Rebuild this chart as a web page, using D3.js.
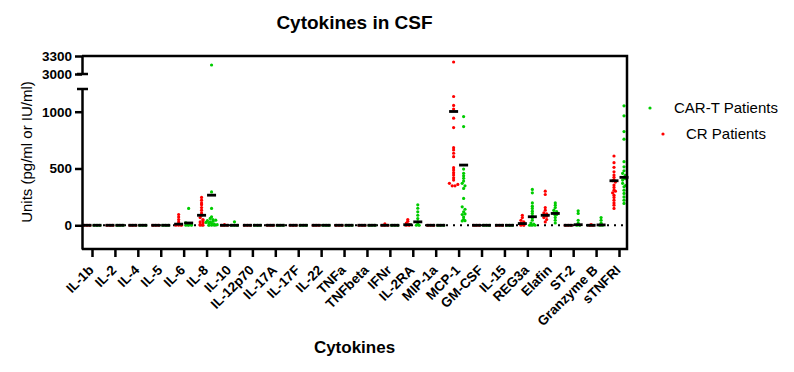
<!DOCTYPE html>
<meta charset="utf-8">
<style>
    body { margin: 0; background: #fff; }
    text { font-family: Arial, "Liberation Sans", sans-serif; fill: #000; }
</style>
<body>
<script src="https://d3js.org/d3.v7.min.js"></script>
<script>

    var cytokines = ["IL-1b", "IL-2", "IL-4", "IL-5", "IL-6", "IL-8", "IL-10", "IL-12p70", "IL-17A", "IL-17F",
        "IL-22", "TNFa", "TNFbeta", "IFNr", "IL-2RA", "MIP-1a", "MCP-1", "GM-CSF", "IL-15", "REG3a",
        "Elafin", "ST-2", "Granzyme B", "sTNFRI"];

    // CR patients (red), one list per cytokine
    var crValues = [
        [0, 0, 0], [0, 0, 0], [0, 0, 0], [0, 0, 0],
        [95, 73, 50, 29, 9, 0, 0, 0],
        [245, 221, 197, 181, 156, 133, 109, 88, 68, 51, 29, 9, 0, 0, 40, 20],
        [5, 0, 0, 0],
        [0, 0, 0], [0, 0, 0], [0, 0, 0], [0, 0, 0], [0, 0, 0], [0, 0, 0],
        [12, 0, 0, 0],
        [50, 35, 20, 5, 0, 0],
        [0, 0, 0],
        [3200, 1134, 1055, 1023, 943, 860, 683, 663, 634, 604, 507, 486, 463, 442, 418, 398, 369, 347, 347, 360],
        [0, 0, 0], [0, 0, 0],
        [88, 68, 44, 20, 10, 0, 0, 30],
        [300, 271, 156, 133, 109, 88, 68, 51, 29, 100, 80],
        [0, 0, 0],
        [5, 0, 0],
        [610, 551, 510, 471, 442, 422, 392, 354, 333, 309, 286, 265, 245, 221, 197, 177, 148, 400, 380, 300]
    ];

    // CAR-T patients (green)
    var cartValues = [
        [0, 0, 0], [0, 0, 0], [0, 0, 0], [0, 0, 0],
        [148, 22, 10, 5, 0, 0, 0],
        [3150, 294, 148, 75, 60, 50, 40, 30, 25, 20, 15, 10, 5, 0, 0, 0, 35, 45],
        [30, 0, 0, 0],
        [0, 0, 0], [0, 0, 0], [0, 0, 0], [0, 0, 0], [0, 0, 0], [0, 0, 0],
        [0, 0, 0],
        [180, 150, 118, 88, 59, 29, 10, 0, 0],
        [0, 0, 0],
        [957, 869, 495, 457, 436, 413, 389, 369, 347, 324, 236, 162, 141, 118, 95, 73, 53, 38, 40, 100],
        [0, 0, 0], [0, 0, 0],
        [316, 286, 197, 168, 148, 124, 104, 80, 65, 44, 20, 10, 0, 0, 0],
        [197, 177, 156, 133, 109, 88, 68, 44, 20, 120, 95],
        [127, 104, 44, 18, 0, 0],
        [68, 44, 18, 0, 0],
        [1052, 964, 825, 758, 560, 515, 480, 457, 422, 398, 369, 339, 309, 280, 250, 221, 192, 440, 410, 350]
    ];

    // summary bars (black lines)
    var crBars = [0, 0, 0, 0, 10, 88, 0, 0, 0, 0, 0, 0, 0, 0, 5, 0, 1002, 0, 0, 15, 88, 0, 0, 392];
    var cartBars = [0, 0, 0, 0, 20, 265, 0, 0, 0, 0, 0, 0, 0, 0, 30, 0, 530, 0, 0, 75, 104, 5, 3, 422];

    var lowTicks = [0, 500, 1000],
        highTicks = [3000, 3300];

    var red = "#ff0000",
        green = "#00cc00";

    var width = 794,
        height = 372,
        plotLeft = 82,
        plotRight = 627,
        plotTop = 56,
        plotBottom = 249;

    var svg = d3.select("body").append("svg")
        .attr("width", width)
        .attr("height", height);

    var x = d3.scalePoint()
        .domain(cytokines)
        .range([92, 619]);

    var yLow = d3.scaleLinear().domain([-209, 1200]).range([plotBottom, 89]);
    var yHigh = d3.scaleLinear().domain([3000, 3300]).range([74, plotTop]);

    function y(v) { return v > 2000 ? yHigh(v) : yLow(v); }

    // dotted zero line
    svg.append("line")
        .attr("x1", plotLeft).attr("x2", plotRight)
        .attr("y1", yLow(0)).attr("y2", yLow(0))
        .attr("stroke", "#000")
        .attr("stroke-width", 2)
        .attr("stroke-dasharray", "2,5");

    // points, spread sideways when they share a row
    function layout(vals, cx) {
        var bins = d3.group(vals.map(function(v) { return { v: v, y: y(v) }; }),
            function(d) { return Math.round(d.y / 2.6); });
        var out = [];
        bins.forEach(function(arr) {
            arr.forEach(function(d, i) {
                out.push({ x: cx + (i - (arr.length - 1) / 2) * 2.8, y: d.y });
            });
        });
        return out;
    }

    var pts = [];
    cytokines.forEach(function(c, i) {
        layout(crValues[i], x(c) - 5).forEach(function(p) { p.color = red; pts.push(p); });
        layout(cartValues[i], x(c) + 5).forEach(function(p) { p.color = green; pts.push(p); });
    });

    svg.append("g").selectAll("circle")
        .data(pts)
        .enter().append("circle")
        .attr("cx", function(d) { return d.x; })
        .attr("cy", function(d) { return d.y; })
        .attr("r", 1.6)
        .attr("fill", function(d) { return d.color; });

    var bars = [];
    cytokines.forEach(function(c, i) {
        bars.push({ x: x(c) - 5, v: crBars[i] });
        bars.push({ x: x(c) + 5, v: cartBars[i] });
    });

    svg.append("g").selectAll("rect")
        .data(bars)
        .enter().append("rect")
        .attr("x", function(d) { return d.x - 4.5; })
        .attr("y", function(d) { return y(d.v) - 1.4; })
        .attr("width", 9)
        .attr("height", 2.8)
        .attr("fill", "#000");

    // frame
    svg.append("path")
        .attr("d", "M" + plotLeft + "," + plotTop + "H" + plotRight + "V" + plotBottom + "H" + plotLeft)
        .attr("fill", "none")
        .attr("stroke", "#000")
        .attr("stroke-width", 2.5);

    // y axis in two parts
    var gLow = svg.append("g")
        .attr("transform", "translate(" + plotLeft + ",0)")
        .call(d3.axisLeft(yLow).tickValues(lowTicks).tickSize(7).tickSizeOuter(0).tickFormat(d3.format("d")));

    var gHigh = svg.append("g")
        .attr("transform", "translate(" + plotLeft + ",0)")
        .call(d3.axisLeft(yHigh).tickValues(highTicks).tickSize(7).tickSizeOuter(0).tickFormat(d3.format("d")));

    [gLow, gHigh].forEach(function(g) {
        g.selectAll("path, line").attr("stroke", "#000").attr("stroke-width", 2.5);
        g.selectAll("text")
            .attr("x", -10)
            .style("font-size", "13.5px")
            .style("font-weight", "bold")
            .style("font-family", "Arial, 'Liberation Sans', sans-serif")
            .attr("fill", "#000");
    });

    // break caps
    [yLow.range()[1], yHigh.range()[0]].forEach(function(d) {
        svg.append("line")
            .attr("x1", plotLeft - 5).attr("x2", plotLeft + 6)
            .attr("y1", d).attr("y2", d)
            .attr("stroke", "#000").attr("stroke-width", 2.5);
    });

    // x axis
    var gx = svg.append("g")
        .attr("transform", "translate(0," + plotBottom + ")")
        .call(d3.axisBottom(x).tickSize(8).tickSizeOuter(0));

    gx.select(".domain").remove();
    gx.selectAll("line").attr("stroke", "#000").attr("stroke-width", 2.5);
    gx.selectAll("text")
        .attr("y", 0)
        .attr("dy", 0)
        .attr("transform", "translate(2,22) rotate(-45)")
        .style("text-anchor", "end")
        .style("font-size", "13.5px")
        .style("font-weight", "bold")
        .style("font-family", "Arial, 'Liberation Sans', sans-serif")
        .attr("fill", "#000");

    // titles
    svg.append("text")
        .attr("x", (plotLeft + plotRight) / 2)
        .attr("y", 29)
        .attr("text-anchor", "middle")
        .style("font-size", "19px")
        .style("font-weight", "bold")
        .text("Cytokines in CSF");

    svg.append("text")
        .attr("x", (plotLeft + plotRight) / 2)
        .attr("y", 353)
        .attr("text-anchor", "middle")
        .style("font-size", "17px")
        .style("font-weight", "bold")
        .text("Cytokines");

    svg.append("text")
        .attr("transform", "translate(32,152) rotate(-90)")
        .attr("text-anchor", "middle")
        .style("font-size", "15px")
        .text("Units (pg/ml or IU/ml)");

    // legend
    var legend = [
        { name: "CAR-T Patients", color: green, y: 108, dotX: 650 },
        { name: "CR Patients", color: red, y: 134, dotX: 663 }
    ];

    var lg = svg.append("g").selectAll("g")
        .data(legend)
        .enter().append("g");

    lg.append("circle")
        .attr("cx", function(d) { return d.dotX; })
        .attr("cy", function(d) { return d.y; })
        .attr("r", 1.6)
        .attr("fill", function(d) { return d.color; });

    lg.append("text")
        .attr("x", 726)
        .attr("y", function(d) { return d.y + 5; })
        .attr("text-anchor", "middle")
        .style("font-size", "15px")
        .text(function(d) { return d.name; });

</script>
</body>
